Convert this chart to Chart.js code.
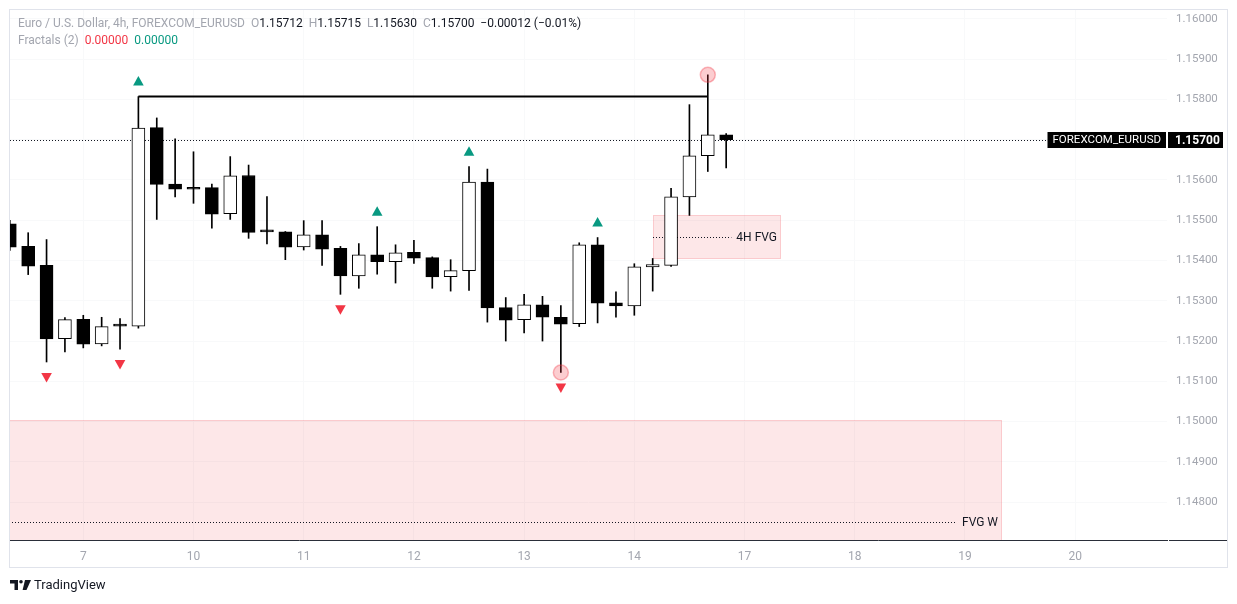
<!DOCTYPE html>
<html><head><meta charset="utf-8">
<script src="https://cdn.jsdelivr.net/npm/chart.js@4.4.1/dist/chart.umd.min.js"></script>
<style>
html,body{margin:0;padding:0;background:#fff;width:1237px;height:604px;overflow:hidden;font-family:Roboto,sans-serif;}
#c{position:absolute;left:0;top:0;}
#hdr{position:absolute;left:18px;top:15px;font-size:12px;line-height:17px;color:#131722;white-space:nowrap;}
.g{color:#a3a6af}.r{color:#f23645}.t{color:#089981}.k{color:#131722}
#logo{position:absolute;left:10px;top:577px;display:flex;align-items:center;font-size:13px;color:#131722;}
#logo svg{margin-right:3px}
</style></head><body>
<canvas id="c" width="1237" height="604"></canvas>
<div id="hdr"></div>
<div id="logo"><svg width="21" height="10" viewBox="0 0 21 10"><path d="M0 0H8V10H4.5V3.4H0Z" fill="#131722"/><circle cx="11" cy="1.8" r="1.8" fill="#131722"/><path d="M15 0H21L16.5 10H12.6Z" fill="#131722"/></svg><span>TradingView</span></div>
<script>
// ---- data ----
const candleIndex = [-4,-3,-2,-1,0,1,2,3,4,5,6,7,8,9,10,11,12,13,14,15,16,17,18,19,20,21,22,23,24,25,26,27,28,29,30,31,32,33,34,35];
const opens  = [1.15491,1.15435,1.15388,1.15206,1.15254,1.15193,1.15239,1.15237,1.15730,1.15590,1.15581,1.15581,1.15516,1.15611,1.15472,1.15471,1.15434,1.15464,1.15430,1.15362,1.15414,1.15397,1.15420,1.15407,1.15360,1.15375,1.15595,1.15283,1.15253,1.15290,1.15259,1.15243,1.15439,1.15295,1.15287,1.15384,1.15388,1.15558,1.15660,1.15712];
const highs  = [1.15500,1.15469,1.15452,1.15258,1.15264,1.15259,1.15256,1.15807,1.15754,1.15702,1.15670,1.15590,1.15658,1.15637,1.15559,1.15472,1.15499,1.15499,1.15435,1.15442,1.15484,1.15439,1.15450,1.15409,1.15402,1.15633,1.15627,1.15308,1.15316,1.15311,1.15288,1.15444,1.15457,1.15322,1.15392,1.15405,1.15579,1.15787,1.15861,1.15715];
const lows   = [1.15425,1.15365,1.15148,1.15173,1.15183,1.15188,1.15180,1.15232,1.15502,1.15558,1.15542,1.15480,1.15502,1.15455,1.15441,1.15402,1.15426,1.15388,1.15316,1.15331,1.15366,1.15344,1.15393,1.15331,1.15324,1.15326,1.15247,1.15200,1.15220,1.15200,1.15122,1.15236,1.15245,1.15259,1.15264,1.15324,1.15385,1.15512,1.15621,1.15630];
const closes = [1.15433,1.15386,1.15205,1.15253,1.15192,1.15236,1.15237,1.15729,1.15589,1.15577,1.15577,1.15515,1.15610,1.15470,1.15471,1.15433,1.15464,1.15428,1.15362,1.15414,1.15397,1.15419,1.15406,1.15359,1.15375,1.15595,1.15282,1.15252,1.15290,1.15259,1.15242,1.15439,1.15294,1.15287,1.15384,1.15390,1.15558,1.15660,1.15712,1.15700];

const dayTickPos    = [0,6,12,18,24,30,36,42,48,54];
const dayTickLabels = ['7','10','11','12','13','14','17','18','19','20'];
const priceTicks    = [1.148,1.149,1.150,1.151,1.152,1.153,1.154,1.155,1.156,1.157,1.158,1.159,1.160];

const fractalUpIdx   = [3,16,21,28];
const fractalDownIdx = [-2,2,14,26];

const levelStartIdx = 3, levelEndIdx = 34, levelPrice = 1.15807;
const circleIdx = [26,34];
const circlePrice = [1.15122,1.15861];

const fvgLabels = ['4H FVG','FVG W'];
const fvgStart  = [31,-6];
const fvgEnd    = [38,50];
const fvgTop    = [1.15514,1.15005];
const fvgBottom = [1.15403,1.14496];

const symbolName = 'FOREXCOM_EURUSD';
const titleText = 'Euro / U.S. Dollar, 4h, FOREXCOM_EURUSD';

// ---- header ----
const n = closes.length;
const fmt = v => (v < 0 ? '\u2212' : '') + Math.abs(v).toFixed(5);
const chg = closes[n-1] - closes[n-2];
const pct = chg / closes[n-2] * 100;
document.getElementById('hdr').innerHTML =
  '<div><span class="g">' + titleText + '</span>&nbsp;&nbsp;' +
  '<span class="g">O</span><span class="k">' + fmt(opens[n-1]) + '</span>&nbsp;&nbsp;' +
  '<span class="g">H</span><span class="k">' + fmt(highs[n-1]) + '</span>&nbsp;&nbsp;' +
  '<span class="g">L</span><span class="k">' + fmt(lows[n-1]) + '</span>&nbsp;&nbsp;' +
  '<span class="g">C</span><span class="k">' + fmt(closes[n-1]) + '</span>&nbsp;&nbsp;' +
  '<span class="k">' + fmt(chg) + ' (' + (pct < 0 ? '\u2212' : '') + Math.abs(pct).toFixed(2) + '%)</span></div>' +
  '<div><span class="g">Fractals (2)</span>&nbsp;&nbsp;<span class="r">0.00000</span>&nbsp;&nbsp;<span class="t">0.00000</span></div>';

// ---- datasets ----
const wickData = candleIndex.map((x, k) => ({x: x, y: [lows[k], highs[k]]}));
const bodyData = candleIndex.map((x, k) => ({x: x, y: [opens[k], closes[k]]}));
const bodyColors = candleIndex.map((x, k) => closes[k] >= opens[k] ? '#ffffff' : '#000000');

const overlay = {
  id: 'overlay',
  beforeDatasetsDraw(chart) {
    const {ctx, chartArea: a, scales: {x, y}} = chart;
    ctx.save();
    ctx.beginPath(); ctx.rect(a.left, a.top, a.right - a.left, a.bottom - a.top); ctx.clip();
    for (let k = 0; k < fvgLabels.length; k++) {
      const x0 = Math.round(x.getPixelForValue(fvgStart[k])), x1 = Math.round(x.getPixelForValue(fvgEnd[k]));
      const yt = Math.round(y.getPixelForValue(fvgTop[k])), yb = Math.round(y.getPixelForValue(fvgBottom[k]));
      ctx.fillStyle = 'rgba(242,54,69,0.12)';
      ctx.fillRect(x0, yt, x1 - x0, yb - yt);
      ctx.strokeStyle = 'rgba(242,54,69,0.16)'; ctx.lineWidth = 1;
      ctx.strokeRect(x0 + 0.5, yt + 0.5, x1 - x0 - 1, yb - yt - 1);
      const ym = Math.round(y.getPixelForValue((fvgTop[k] + fvgBottom[k]) / 2)) + 0.5;
      ctx.font = '12px Roboto'; ctx.fillStyle = '#131722'; ctx.textAlign = 'right'; ctx.textBaseline = 'middle';
      const tw = ctx.measureText(fvgLabels[k]).width;
      ctx.fillText(fvgLabels[k], x1 - 4, ym);
      ctx.setLineDash([1, 2]); ctx.strokeStyle = '#131722';
      ctx.beginPath(); ctx.moveTo(x0, ym); ctx.lineTo(x1 - 4 - tw - 5, ym); ctx.stroke();
      ctx.setLineDash([]);
    }
    const yp = Math.round(y.getPixelForValue(closes[n-1])) + 0.5;
    ctx.font = '11.5px Roboto';
    const sw = ctx.measureText(symbolName).width;
    const boxL = a.right - 1 - (sw + 10);
    ctx.setLineDash([1, 2]); ctx.strokeStyle = '#131722'; ctx.lineWidth = 1;
    ctx.beginPath(); ctx.moveTo(a.left, yp); ctx.lineTo(boxL, yp); ctx.stroke();
    ctx.setLineDash([]);
    ctx.restore();
  },
  afterDatasetsDraw(chart) {
    const {ctx, chartArea: a, scales: {x, y}} = chart;
    ctx.save();
    ctx.beginPath(); ctx.rect(a.left, a.top, a.right - a.left, a.bottom - a.top); ctx.clip();
    fractalUpIdx.forEach(i => {
      const k = candleIndex.indexOf(i);
      const px = x.getPixelForValue(i), py = y.getPixelForValue(highs[k]) - 15.5;
      ctx.fillStyle = '#089981';
      ctx.beginPath(); ctx.moveTo(px, py - 5); ctx.lineTo(px + 5.3, py + 4.5); ctx.lineTo(px - 5.3, py + 4.5); ctx.closePath(); ctx.fill();
    });
    fractalDownIdx.forEach(i => {
      const k = candleIndex.indexOf(i);
      const px = x.getPixelForValue(i), py = y.getPixelForValue(lows[k]) + 15.5;
      ctx.fillStyle = '#f23645';
      ctx.beginPath(); ctx.moveTo(px, py + 5); ctx.lineTo(px + 5.3, py - 4.5); ctx.lineTo(px - 5.3, py - 4.5); ctx.closePath(); ctx.fill();
    });
    ctx.restore();
    const yp = Math.round(y.getPixelForValue(closes[n-1]));
    ctx.save();
    ctx.font = '11.5px Roboto';
    const sw = ctx.measureText(symbolName).width;
    const boxL = a.right - 1 - (sw + 10);
    ctx.fillStyle = '#000000';
    ctx.fillRect(boxL, yp - 8, a.right - 1 - boxL, 16);
    ctx.fillStyle = '#ffffff'; ctx.textBaseline = 'middle'; ctx.textAlign = 'left';
    ctx.fillText(symbolName, boxL + 5, yp + 0.5);
    ctx.fillStyle = '#000000';
    ctx.fillRect(a.right + 1, yp - 8, 55, 16);
    ctx.font = 'bold 12px Roboto'; ctx.fillStyle = '#ffffff';
    ctx.fillText(closes[n-1].toFixed(5), a.right + 8, yp + 0.5);
    ctx.fillStyle = '#2a2e39';
    ctx.fillRect(a.right + 2, a.bottom, 1227 - a.right - 2, 1);
    ctx.strokeStyle = '#e0e3eb'; ctx.lineWidth = 1;
    ctx.strokeRect(9.5, 9.5, 1218, 558);
    ctx.restore();
  }
};

new Chart(document.getElementById('c'), {
  type: 'bar',
  data: {
    datasets: [
      {type: 'line', data: [{x: levelStartIdx, y: levelPrice}, {x: levelEndIdx, y: levelPrice}],
       borderColor: '#000000', borderWidth: 2, pointRadius: 0, order: 1},
      {type: 'line', data: circleIdx.map((x, k) => ({x: x, y: circlePrice[k]})), showLine: false,
       pointRadius: 7.5, pointBackgroundColor: 'rgba(242,54,69,0.25)', pointBorderColor: 'rgba(242,54,69,0.35)',
       pointBorderWidth: 1.5, order: 0},
      {type: 'bar', data: bodyData, backgroundColor: bodyColors, borderColor: '#000000', borderWidth: 1,
       borderSkipped: false, barThickness: 13, grouped: false, minBarLength: 2, order: 2},
      {type: 'bar', data: wickData, backgroundColor: '#000000', barThickness: 1, grouped: false, order: 3}
    ]
  },
  options: {
    responsive: false, animation: false, devicePixelRatio: 1,
    layout: {padding: {left: 10, top: 10, right: 10, bottom: 37}},
    plugins: {legend: {display: false}, tooltip: {enabled: false}},
    scales: {
      x: {type: 'linear', min: -3.99, max: 59.0, offset: false,
          grid: {offset: false, color: '#f8f9fa', drawTicks: false},
          border: {display: true, color: '#2a2e39', width: 1},
          afterBuildTicks: s => { s.ticks = dayTickPos.map(v => ({value: v})); },
          afterFit: s => { s.height = 27; s.paddingLeft = 0; s.paddingRight = 0; },
          ticks: {padding: 10, color: '#a3a6af', font: {family: 'Roboto', size: 12}, maxRotation: 0, autoSkip: false,
                  callback: v => dayTickLabels[dayTickPos.indexOf(v)]}},
      y: {type: 'linear', position: 'right', min: 1.14706, max: 1.16022, beginAtZero: false,
          grid: {color: '#f8f9fa', drawTicks: false},
          border: {display: false},
          afterBuildTicks: s => { s.ticks = priceTicks.map(v => ({value: v})); },
          afterFit: s => { s.width = 60; s.paddingTop = 0; s.paddingBottom = 0; },
          ticks: {padding: 9, color: '#a3a6af', font: {family: 'Roboto', size: 11.5},
                  callback: v => Number(v).toFixed(5)}}
    }
  },
  plugins: [overlay]
});
</script>
</body></html>
